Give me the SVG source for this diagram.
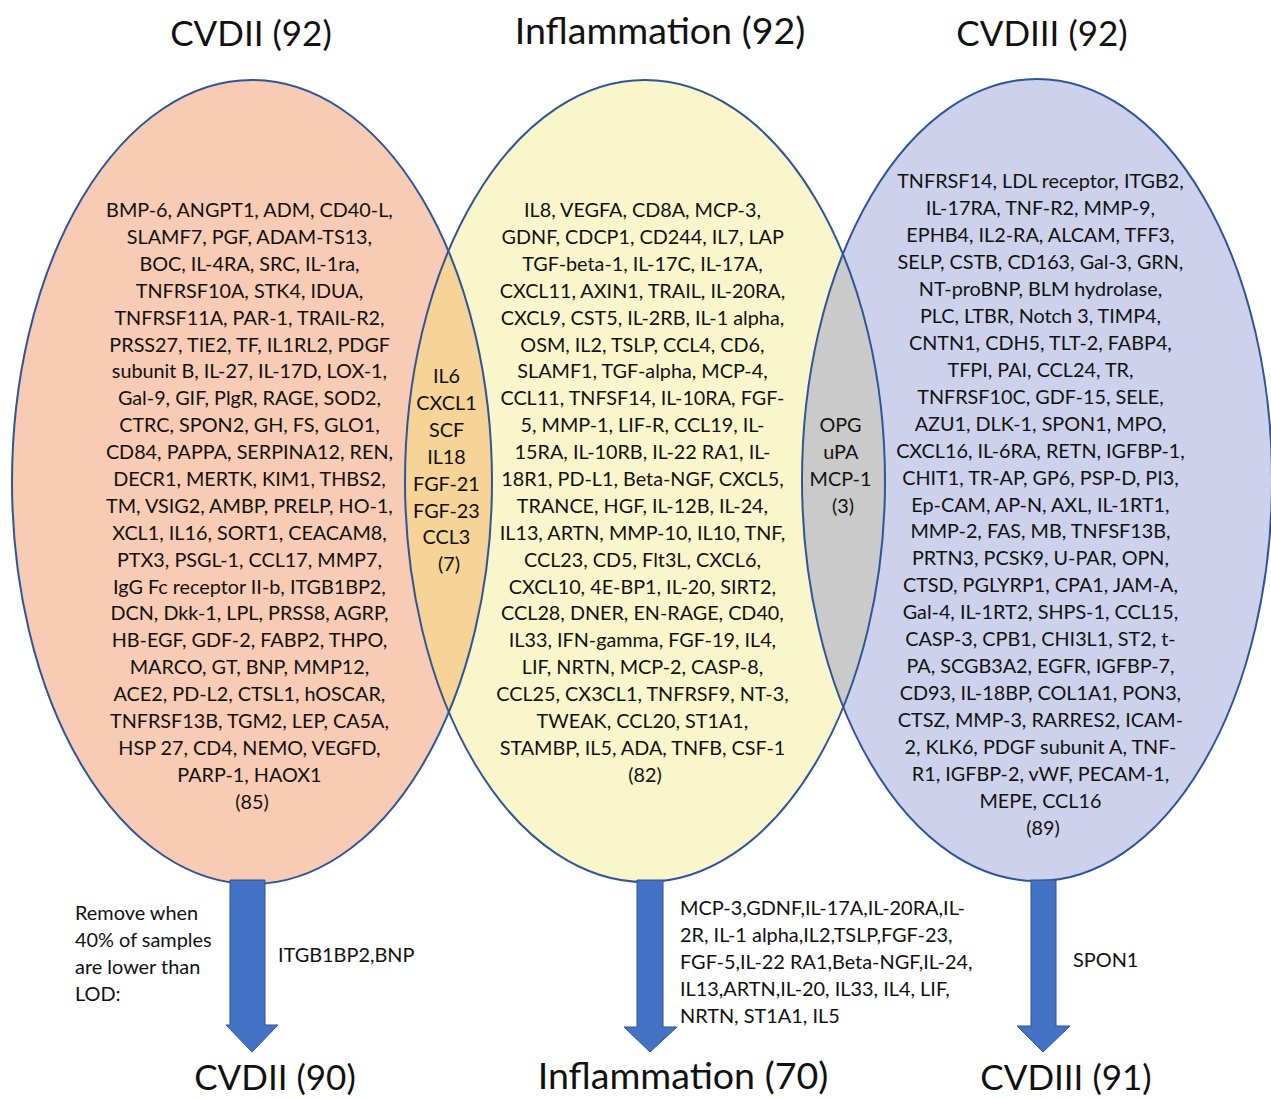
<svg xmlns="http://www.w3.org/2000/svg" width="1271" height="1099" viewBox="0 0 1271 1099">
<style>
.t{font-family:Lato,"Open Sans","Liberation Sans",sans-serif;fill:#111;}
.b{font-size:19.8px;text-anchor:middle;}
.h{font-size:35px;text-anchor:middle;}
.hw{font-size:37.6px;}
.s{font-size:19.9px;}
.edge{fill:none;stroke:#2F5597;stroke-width:2;}
.arrow{fill:#4472C4;stroke:#2F528F;stroke-width:1;}
</style>
<defs>
<clipPath id="cL"><ellipse cx="252" cy="482" rx="240" ry="402"/></clipPath>
<clipPath id="cR"><ellipse cx="1037" cy="480" rx="235" ry="401"/></clipPath>
</defs>
<rect width="1271" height="1099" fill="#fff"/>

<g id="titles">
<text class="t h" x="251" y="46">CVDII (92)</text>
<text class="t h hw" x="660" y="44">Inflammation (92)</text>
<text class="t h" x="1042" y="46">CVDIII (92)</text>
</g>

<g id="set-cvdii">
<ellipse cx="252" cy="482" rx="240" ry="402" fill="#F8CBB4"/>
</g>
<g id="set-inflammation">
<ellipse cx="645" cy="481" rx="240" ry="401" fill="#FAF6CC"/>
</g>
<g id="set-cvdiii">
<ellipse cx="1037" cy="480" rx="235" ry="401" fill="#CDD1EC"/>
</g>
<g id="overlap-cvdii-inflammation">
<ellipse cx="645" cy="481" rx="240" ry="401" fill="#F6D397" clip-path="url(#cL)"/>
</g>
<g id="overlap-inflammation-cvdiii">
<ellipse cx="645" cy="481" rx="240" ry="401" fill="#C9CAC9" clip-path="url(#cR)"/>
</g>
<g id="outlines">
<ellipse class="edge" cx="252" cy="482" rx="240" ry="402"/>
<ellipse class="edge" cx="645" cy="481" rx="240" ry="401"/>
<ellipse class="edge" cx="1037" cy="480" rx="235" ry="401"/>
</g>

<g id="text-cvdii">
<text class="t b" x="252" y="217">
<tspan x="252">BMP-6, ANGPT1, ADM, CD40-L,</tspan>
<tspan x="252" dy="26.9">SLAMF7, PGF, ADAM-TS13,</tspan>
<tspan x="252" dy="26.9">BOC, IL-4RA, SRC, IL-1ra,</tspan>
<tspan x="252" dy="26.9">TNFRSF10A, STK4, IDUA,</tspan>
<tspan x="252" dy="26.9">TNFRSF11A, PAR-1, TRAIL-R2,</tspan>
<tspan x="252" dy="26.9">PRSS27, TIE2, TF, IL1RL2, PDGF</tspan>
<tspan x="252" dy="26.9">subunit B, IL-27, IL-17D, LOX-1,</tspan>
<tspan x="252" dy="26.9">Gal-9, GIF, PlgR, RAGE, SOD2,</tspan>
<tspan x="252" dy="26.9">CTRC, SPON2, GH, FS, GLO1,</tspan>
<tspan x="252" dy="26.9">CD84, PAPPA, SERPINA12, REN,</tspan>
<tspan x="252" dy="26.9">DECR1, MERTK, KIM1, THBS2,</tspan>
<tspan x="252" dy="26.9">TM, VSIG2, AMBP, PRELP, HO-1,</tspan>
<tspan x="252" dy="26.9">XCL1, IL16, SORT1, CEACAM8,</tspan>
<tspan x="252" dy="26.9">PTX3, PSGL-1, CCL17, MMP7,</tspan>
<tspan x="252" dy="26.9">IgG Fc receptor II-b, ITGB1BP2,</tspan>
<tspan x="252" dy="26.9">DCN, Dkk-1, LPL, PRSS8, AGRP,</tspan>
<tspan x="252" dy="26.9">HB-EGF, GDF-2, FABP2, THPO,</tspan>
<tspan x="252" dy="26.9">MARCO, GT, BNP, MMP12,</tspan>
<tspan x="252" dy="26.9">ACE2, PD-L2, CTSL1, hOSCAR,</tspan>
<tspan x="252" dy="26.9">TNFRSF13B, TGM2, LEP, CA5A,</tspan>
<tspan x="252" dy="26.9">HSP 27, CD4, NEMO, VEGFD,</tspan>
<tspan x="252" dy="26.9">PARP-1, HAOX1</tspan>
<tspan x="252" dy="26.9">(85)</tspan>
</text>
</g>

<g id="text-overlap-left">
<text class="t b" x="449" y="383">
<tspan x="449">IL6</tspan>
<tspan x="449" dy="26.9">CXCL1</tspan>
<tspan x="449" dy="26.9">SCF</tspan>
<tspan x="449" dy="26.9">IL18</tspan>
<tspan x="449" dy="26.9">FGF-21</tspan>
<tspan x="449" dy="26.9">FGF-23</tspan>
<tspan x="449" dy="26.9">CCL3</tspan>
<tspan x="449" dy="26.9">(7)</tspan>
</text>
</g>

<g id="text-inflammation">
<text class="t b" x="645" y="217">
<tspan x="645">IL8, VEGFA, CD8A, MCP-3,</tspan>
<tspan x="645" dy="26.9">GDNF, CDCP1, CD244, IL7, LAP</tspan>
<tspan x="645" dy="26.9">TGF-beta-1, IL-17C, IL-17A,</tspan>
<tspan x="645" dy="26.9">CXCL11, AXIN1, TRAIL, IL-20RA,</tspan>
<tspan x="645" dy="26.9">CXCL9, CST5, IL-2RB, IL-1 alpha,</tspan>
<tspan x="645" dy="26.9">OSM, IL2, TSLP, CCL4, CD6,</tspan>
<tspan x="645" dy="26.9">SLAMF1, TGF-alpha, MCP-4,</tspan>
<tspan x="645" dy="26.9">CCL11, TNFSF14, IL-10RA, FGF-</tspan>
<tspan x="645" dy="26.9">5, MMP-1, LIF-R, CCL19, IL-</tspan>
<tspan x="645" dy="26.9">15RA, IL-10RB, IL-22 RA1, IL-</tspan>
<tspan x="645" dy="26.9">18R1, PD-L1, Beta-NGF, CXCL5,</tspan>
<tspan x="645" dy="26.9">TRANCE, HGF, IL-12B, IL-24,</tspan>
<tspan x="645" dy="26.9">IL13, ARTN, MMP-10, IL10, TNF,</tspan>
<tspan x="645" dy="26.9">CCL23, CD5, Flt3L, CXCL6,</tspan>
<tspan x="645" dy="26.9">CXCL10, 4E-BP1, IL-20, SIRT2,</tspan>
<tspan x="645" dy="26.9">CCL28, DNER, EN-RAGE, CD40,</tspan>
<tspan x="645" dy="26.9">IL33, IFN-gamma, FGF-19, IL4,</tspan>
<tspan x="645" dy="26.9">LIF, NRTN, MCP-2, CASP-8,</tspan>
<tspan x="645" dy="26.9">CCL25, CX3CL1, TNFRSF9, NT-3,</tspan>
<tspan x="645" dy="26.9">TWEAK, CCL20, ST1A1,</tspan>
<tspan x="645" dy="26.9">STAMBP, IL5, ADA, TNFB, CSF-1</tspan>
<tspan x="645" dy="26.9">(82)</tspan>
</text>
</g>

<g id="text-overlap-right">
<text class="t b" x="843" y="432">
<tspan x="843">OPG</tspan>
<tspan x="843" dy="26.9">uPA</tspan>
<tspan x="843" dy="26.9">MCP-1</tspan>
<tspan x="843" dy="26.9">(3)</tspan>
</text>
</g>

<g id="text-cvdiii">
<text class="t b" x="1043" y="188">
<tspan x="1043">TNFRSF14, LDL receptor, ITGB2,</tspan>
<tspan x="1043" dy="26.96">IL-17RA, TNF-R2, MMP-9,</tspan>
<tspan x="1043" dy="26.96">EPHB4, IL2-RA, ALCAM, TFF3,</tspan>
<tspan x="1043" dy="26.96">SELP, CSTB, CD163, Gal-3, GRN,</tspan>
<tspan x="1043" dy="26.96">NT-proBNP, BLM hydrolase,</tspan>
<tspan x="1043" dy="26.96">PLC, LTBR, Notch 3, TIMP4,</tspan>
<tspan x="1043" dy="26.96">CNTN1, CDH5, TLT-2, FABP4,</tspan>
<tspan x="1043" dy="26.96">TFPI, PAI, CCL24, TR,</tspan>
<tspan x="1043" dy="26.96">TNFRSF10C, GDF-15, SELE,</tspan>
<tspan x="1043" dy="26.96">AZU1, DLK-1, SPON1, MPO,</tspan>
<tspan x="1043" dy="26.96">CXCL16, IL-6RA, RETN, IGFBP-1,</tspan>
<tspan x="1043" dy="26.96">CHIT1, TR-AP, GP6, PSP-D, PI3,</tspan>
<tspan x="1043" dy="26.96">Ep-CAM, AP-N, AXL, IL-1RT1,</tspan>
<tspan x="1043" dy="26.96">MMP-2, FAS, MB, TNFSF13B,</tspan>
<tspan x="1043" dy="26.96">PRTN3, PCSK9, U-PAR, OPN,</tspan>
<tspan x="1043" dy="26.96">CTSD, PGLYRP1, CPA1, JAM-A,</tspan>
<tspan x="1043" dy="26.96">Gal-4, IL-1RT2, SHPS-1, CCL15,</tspan>
<tspan x="1043" dy="26.96">CASP-3, CPB1, CHI3L1, ST2, t-</tspan>
<tspan x="1043" dy="26.96">PA, SCGB3A2, EGFR, IGFBP-7,</tspan>
<tspan x="1043" dy="26.96">CD93, IL-18BP, COL1A1, PON3,</tspan>
<tspan x="1043" dy="26.96">CTSZ, MMP-3, RARRES2, ICAM-</tspan>
<tspan x="1043" dy="26.96">2, KLK6, PDGF subunit A, TNF-</tspan>
<tspan x="1043" dy="26.96">R1, IGFBP-2, vWF, PECAM-1,</tspan>
<tspan x="1043" dy="26.96">MEPE, CCL16</tspan>
<tspan x="1043" dy="26.96">(89)</tspan>
</text>
</g>

<g id="connectors">
<path class="arrow" d="M230,880 H265 V1025 H278 L252,1052 L226,1025 H230 Z"/>
<path class="arrow" d="M637,880 H663 V1027 H677 L650,1052 L624,1027 H637 Z"/>
<path class="arrow" d="M1031,880 H1056 V1026 H1070 L1043,1052 L1017,1026 H1031 Z"/>
</g>

<g id="removal-notes">
<text class="t s" x="75" y="920">
<tspan x="75">Remove when</tspan>
<tspan x="75" dy="27">40% of samples</tspan>
<tspan x="75" dy="27">are lower than</tspan>
<tspan x="75" dy="27">LOD:</tspan>
</text>
<text class="t s" x="278" y="962">ITGB1BP2,BNP</text>
<text class="t s" x="680" y="915">
<tspan x="680">MCP-3,GDNF,IL-17A,IL-20RA,IL-</tspan>
<tspan x="680" dy="27">2R, IL-1 alpha,IL2,TSLP,FGF-23,</tspan>
<tspan x="680" dy="27">FGF-5,IL-22 RA1,Beta-NGF,IL-24,</tspan>
<tspan x="680" dy="27">IL13,ARTN,IL-20, IL33, IL4, LIF,</tspan>
<tspan x="680" dy="27">NRTN, ST1A1, IL5</tspan>
</text>
<text class="t s" x="1073" y="967">SPON1</text>
</g>

<g id="results">
<text class="t h" x="275" y="1090">CVDII (90)</text>
<text class="t h hw" x="683" y="1089">Inflammation (70)</text>
<text class="t h" x="1066" y="1090">CVDIII (91)</text>
</g>
</svg>
